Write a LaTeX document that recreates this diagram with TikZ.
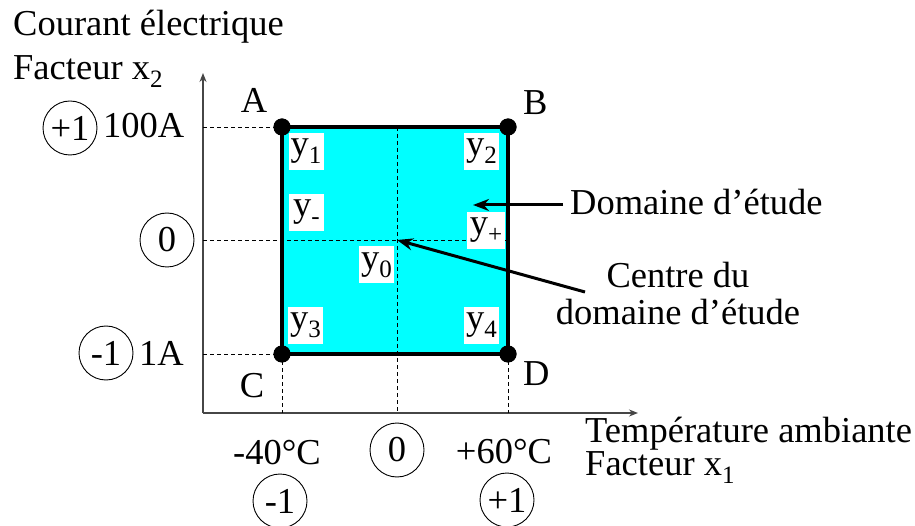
\documentclass[tikz,border=0pt]{standalone}
\usepackage{fontspec}
\setmainfont{Liberation Serif}
\usetikzlibrary{arrows.meta}
\definecolor{cy}{RGB}{0,255,255}
\definecolor{axisgray}{RGB}{70,70,70}
\newcommand\sbs[1]{\raisebox{-8pt}{\fontsize{25}{25}\selectfont #1}}
\begin{document}
\begin{tikzpicture}[x=1pt,y=-1pt,
  lbl/.style={inner sep=0pt, font=\fontsize{36.5}{40}\selectfont},
  circ/.style={circle, draw, line width=0.9pt, minimum size=54pt, inner sep=0pt, font=\fontsize{36.5}{40}\selectfont},
  ybox/.style={fill=white, inner sep=0pt, minimum width=35pt, minimum height=37pt, font=\fontsize{36.5}{40}\selectfont},
  dashline/.style={dash pattern=on 4pt off 3pt, line width=0.9pt},
  axis/.style={line width=1.4pt, draw=axisgray, -{Stealth[length=9pt,width=7pt]}},
  pointer/.style={line width=3pt, -{Stealth[length=16pt,width=12pt]}},
  corner/.style={circle, fill=black, minimum size=17pt, inner sep=0pt}
]
\useasboundingbox (0,0) rectangle (915,526);
% coordinates
\coordinate (O) at (203,413);
\coordinate (ytip) at (203,73);
\coordinate (xtip) at (638,413);
\coordinate (yA) at (203,127);
\coordinate (yM) at (203,240);
\coordinate (yC) at (203,354);
\coordinate (xC) at (282,413);
\coordinate (xM) at (397,413);
\coordinate (xD) at (508,413);
\coordinate (M) at (397,240);
\coordinate (Mt) at (397,127);
\coordinate (Mr) at (508,240);
\coordinate (dstart) at (563,205);
\coordinate (dtip) at (473,205);
\coordinate (cstart) at (585,292);
% domain fill
\fill[cy] (282,127) rectangle (508,354);
% axes
\draw[axis] (O) -- (ytip);
\draw[axis] (O) -- (xtip);
% dashed guides
\draw[dashline] (yA) -- (282,127);
\draw[dashline] (yM) -- (Mr);
\draw[dashline] (yC) -- (282,354);
\draw[dashline] (Mt) -- (xM);
\draw[dashline] (282,354) -- (xC);
\draw[dashline] (508,354) -- (xD);
% response labels
\node[ybox] (y1) at (306,151.5) {y\sbs{1}};
\node[ybox] (y2) at (481.5,151.5) {y\sbs{2}};
\node[ybox] (ym) at (306.5,212.5) {y\sbs{-}};
\node[ybox, minimum width=38pt] (yp) at (486,230.5) {y\sbs{+}};
\node[ybox] (y0) at (376.5,265) {y\sbs{0}};
\node[ybox] (y3) at (305.5,325.5) {y\sbs{3}};
\node[ybox] (y4) at (481.5,325.5) {y\sbs{4}};
% border and corners
\node[corner] (A) at (282,127) {};
\node[corner] (B) at (508,127) {};
\node[corner] (C) at (282,354) {};
\node[corner] (D) at (508,354) {};
\draw[line width=4pt, line join=miter] (A.center) -- (B.center) -- (D.center) -- (C.center) -- cycle;
\fill (A.center) circle (8.5pt);
\fill (B.center) circle (8.5pt);
\fill (C.center) circle (8.5pt);
\fill (D.center) circle (8.5pt);
% pointers
\draw[pointer] (dstart) -- (dtip);
\draw[pointer] (cstart) -- (M);
% texts
\node[lbl, anchor=base west] (t1) at (13,36) {Courant électrique};
\node[lbl, anchor=base west] (t2) at (13,80) {Facteur x\sbs{2}};
\node[lbl, anchor=base] (lA) at (254,113) {A};
\node[lbl, anchor=base west] (lB) at (523,115) {B};
\node[lbl, anchor=base] (lC) at (252,397) {C};
\node[lbl, anchor=base west] (lD) at (523,385) {D};
\node[circ] (cp1) at (70,128) {+1};
\node[lbl, anchor=base west] (v100) at (103,138) {100A};
\node[circ] (c0y) at (167,240) {0};
\node[circ] (cm1) at (106,353) {-1};
\node[lbl, anchor=base west] (v1) at (139,365) {1A};
\node[lbl, anchor=base] (vm40) at (277,464) {-40°C};
\node[circ] (c0x) at (397,450) {0};
\node[lbl, anchor=base] (vp60) at (504,463) {+60°C};
\node[circ] (cxm1) at (280,501) {-1};
\node[circ] (cxp1) at (507,500) {+1};
\node[lbl, anchor=base west] (t3) at (585,442) {Température ambiante};
\node[lbl, anchor=base west] (t4) at (585,475) {Facteur x\sbs{1}};
\node[lbl, anchor=base west] (dom) at (570,215) {Domaine d'étude};
\node[lbl, anchor=base] (cen1) at (678,288) {Centre du};
\node[lbl, anchor=base] (cen2) at (678,325) {domaine d'étude};
\end{tikzpicture}
\end{document}
